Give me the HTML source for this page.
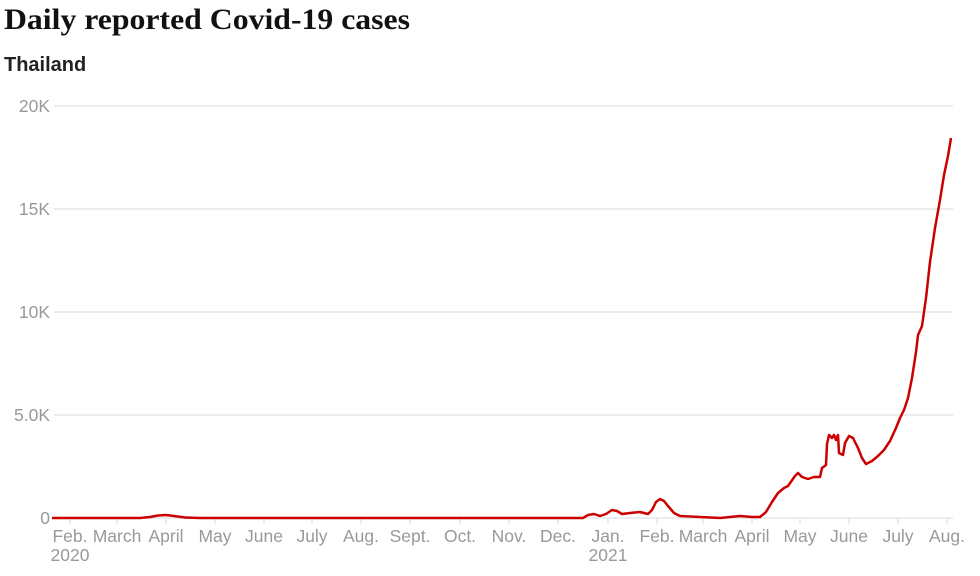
<!DOCTYPE html>
<html><head><meta charset="utf-8"><style>
body{margin:0;background:#fff;width:980px;height:571px;overflow:hidden}
</style></head><body>
<svg width="980" height="571" xmlns="http://www.w3.org/2000/svg">
<text x="4" y="29" font-family="Liberation Serif, serif" font-weight="bold" font-size="30" fill="#111" textLength="406" lengthAdjust="spacingAndGlyphs">Daily reported Covid-19 cases</text>
<text x="4" y="71" font-family="Liberation Sans, sans-serif" font-weight="bold" font-size="20" fill="#222">Thailand</text>
<g stroke="#e6e6e6" stroke-width="1.5">
<line x1="54" y1="106" x2="953" y2="106"/><line x1="54" y1="209" x2="953" y2="209"/>
<line x1="54" y1="312" x2="953" y2="312"/><line x1="54" y1="415" x2="953" y2="415"/>
<line x1="54" y1="518" x2="953" y2="518"/>
</g>
<g font-family="Liberation Sans, sans-serif" font-size="17.5" fill="#999" text-anchor="end">
<text x="50" y="112">20K</text><text x="50" y="215">15K</text><text x="50" y="318">10K</text><text x="50" y="421">5.0K</text><text x="50" y="524">0</text>
</g>
<g stroke="#e6e6e6" stroke-width="1.5">
<line x1="70" y1="518" x2="70" y2="524"/><line x1="117" y1="518" x2="117" y2="524"/><line x1="166" y1="518" x2="166" y2="524"/><line x1="215" y1="518" x2="215" y2="524"/><line x1="264" y1="518" x2="264" y2="524"/><line x1="312" y1="518" x2="312" y2="524"/><line x1="361" y1="518" x2="361" y2="524"/><line x1="410" y1="518" x2="410" y2="524"/><line x1="460" y1="518" x2="460" y2="524"/><line x1="509" y1="518" x2="509" y2="524"/><line x1="558" y1="518" x2="558" y2="524"/><line x1="608" y1="518" x2="608" y2="524"/><line x1="657" y1="518" x2="657" y2="524"/><line x1="703" y1="518" x2="703" y2="524"/><line x1="752" y1="518" x2="752" y2="524"/><line x1="800" y1="518" x2="800" y2="524"/><line x1="849" y1="518" x2="849" y2="524"/><line x1="898" y1="518" x2="898" y2="524"/><line x1="947" y1="518" x2="947" y2="524"/>
</g>
<g font-family="Liberation Sans, sans-serif" font-size="17.5" fill="#999" text-anchor="middle">
<text x="70" y="542">Feb.</text><text x="117" y="542">March</text><text x="166" y="542">April</text><text x="215" y="542">May</text><text x="264" y="542">June</text><text x="312" y="542">July</text><text x="361" y="542">Aug.</text><text x="410" y="542">Sept.</text><text x="460" y="542">Oct.</text><text x="509" y="542">Nov.</text><text x="558" y="542">Dec.</text><text x="608" y="542">Jan.</text><text x="657" y="542">Feb.</text><text x="703" y="542">March</text><text x="752" y="542">April</text><text x="800" y="542">May</text><text x="849" y="542">June</text><text x="898" y="542">July</text><text x="947" y="542">Aug.</text>
<text x="70" y="561">2020</text><text x="608" y="561">2021</text>
</g>
<polyline fill="none" stroke="#cc0000" stroke-width="2.5" stroke-linejoin="round" points="52,518 140,518 150,517 158,515.5 166,515 174,516 185,517.5 200,518 583,518 588,515 594,514 600,516 606,514 612,510 617,511 622,514 630,513 640,512 648,514 652,510 656,502 660,499 664,501 668,506 674,513 680,516 700,517 720,518 740,516 752,517 760,517 766,512 772,502 778,493 784,488 788,486 795,476 798,473 802,477 808,479 814,477 820,477 822,468 826,465 827,444 829,435 832,438 834,435 836,440 838,435 839,453 843,455 845,443 849,436 853,438 858,448 862,458 866,464 872,461 878,456 884,450 890,441 896,428 900,418 904,410 908,398 912,378 916,352 918,335 922,326 926,298 930,262 935,228 940,200 944,175 948,156 951,138"/>
</svg>
</body></html>
